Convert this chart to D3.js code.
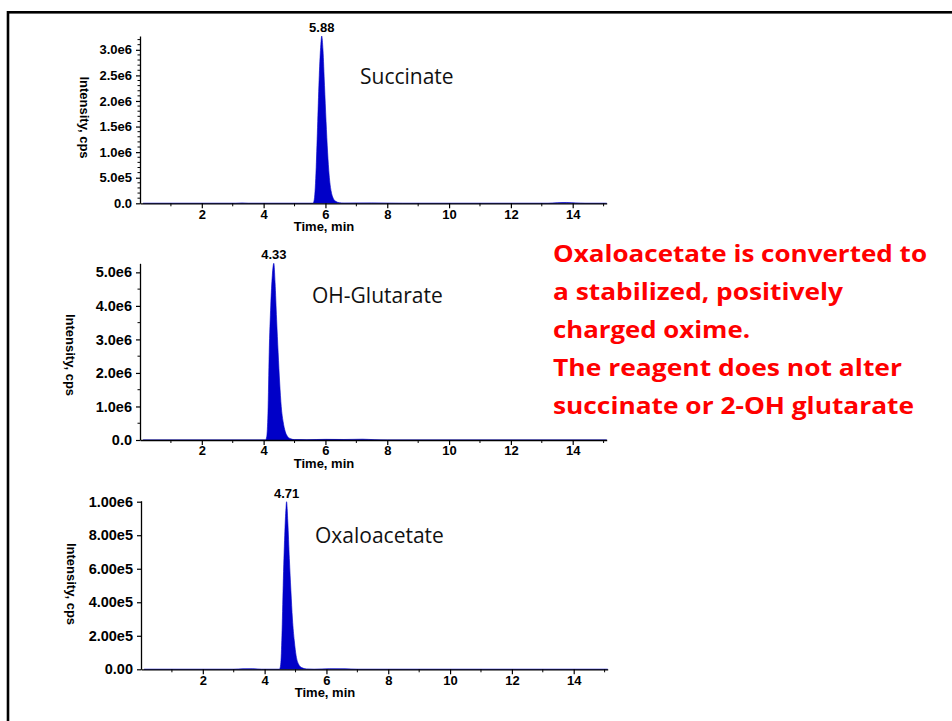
<!DOCTYPE html>
<html>
<head>
<meta charset="utf-8">
<script src="https://cdn.jsdelivr.net/npm/d3@7"></script>
<style>
  html, body { margin: 0; padding: 0; background: #fff; }
  svg { display: block; }
</style>
</head>
<body>
<svg id="chart" width="952" height="721"></svg>
<script>
// ---------- DATA ----------
const xTicks = [2, 4, 6, 8, 10, 12, 14];
const xMinorTicks = [1, 3, 5, 7, 9, 11, 13, 15];

const succinateTime = [0.1, 3.1, 3.3, 3.5, 5.60, 5.64, 5.67, 5.70, 5.75, 5.80, 5.85, 5.88, 5.92, 5.97, 6.02, 6.07, 6.12, 6.18, 6.25, 6.33, 6.45, 6.6, 7.0, 7.5, 8.0, 8.5, 13.2, 13.5, 13.8, 14.1, 14.4, 15.1];
const succinateIntensity = [0, 0, 6e3, 0, 0, 0.08e6, 0.3e6, 0.7e6, 1.6e6, 2.5e6, 3.1e6, 3.27e6, 3.0e6, 2.3e6, 1.6e6, 1.0e6, 0.55e6, 0.25e6, 0.1e6, 0.04e6, 0.012e6, 4e3, 6e3, 8e3, 3e3, 0, 0, 1.2e4, 1.6e4, 8e3, 0, 0];
const succinateYTicks = [0, 5e5, 1e6, 1.5e6, 2e6, 2.5e6, 3e6];
const succinateYLabels = ["0.0", "5.0e5", "1.0e6", "1.5e6", "2.0e6", "2.5e6", "3.0e6"];
const succinateYMinor = [1e5, 2e5, 3e5, 4e5, 6e5, 7e5, 8e5, 9e5, 1.1e6, 1.2e6, 1.3e6, 1.4e6, 1.6e6, 1.7e6, 1.8e6, 1.9e6, 2.1e6, 2.2e6, 2.3e6, 2.4e6, 2.6e6, 2.7e6, 2.8e6, 2.9e6, 3.1e6, 3.2e6];

const glutarateTime = [0.1, 4.06, 4.10, 4.14, 4.18, 4.23, 4.28, 4.33, 4.37, 4.42, 4.47, 4.52, 4.57, 4.63, 4.70, 4.78, 4.88, 5.0, 5.4, 6.0, 6.6, 7.2, 7.6, 8.0, 15.1];
const glutarateIntensity = [0, 0, 0.1e6, 0.8e6, 2.6e6, 4.0e6, 4.9e6, 5.27e6, 4.7e6, 3.6e6, 2.6e6, 1.7e6, 1.0e6, 0.55e6, 0.25e6, 0.1e6, 0.035e6, 0.012e6, 8e3, 2e4, 1.5e4, 2.5e4, 8e3, 0, 0];
const glutarateYTicks = [0, 1e6, 2e6, 3e6, 4e6, 5e6];
const glutarateYLabels = ["0.0", "1.0e6", "2.0e6", "3.0e6", "4.0e6", "5.0e6"];
const glutarateYMinor = [5e5, 1.5e6, 2.5e6, 3.5e6, 4.5e6];

const oxaloacetateTime = [0.1, 3.0, 3.3, 3.6, 3.9, 4.48, 4.52, 4.56, 4.60, 4.65, 4.69, 4.71, 4.75, 4.80, 4.85, 4.90, 4.96, 5.02, 5.10, 5.20, 5.35, 5.6, 6.1, 6.6, 7.0, 15.1];
const oxaloacetateIntensity = [0, 0, 3e3, 3.5e3, 0, 0, 0.03e6, 0.2e6, 0.5e6, 0.8e6, 0.96e6, 1.0e6, 0.88e6, 0.66e6, 0.47e6, 0.3e6, 0.17e6, 0.08e6, 0.03e6, 0.01e6, 2e3, 0, 3.5e3, 3e3, 0, 0];
const oxaloacetateYTicks = [0, 2e5, 4e5, 6e5, 8e5, 1e6];
const oxaloacetateYLabels = ["0.00", "2.00e5", "4.00e5", "6.00e5", "8.00e5", "1.00e6"];
const oxaloacetateYMinor = [];

const compoundNames = ["Succinate", "OH-Glutarate", "Oxaloacetate"];
const peakTimes = [5.88, 4.33, 4.71];
const peakLabels = ["5.88", "4.33", "4.71"];
const peakHeights = [3.27e6, 5.27e6, 1.0e6];
const yMaxima = [3.27e6, 5.27e6, 1.006e6];

const noteLines = [
  "Oxaloacetate is converted to",
  "a stabilized, positively",
  "charged oxime.",
  "The reagent does not alter",
  "succinate or 2-OH glutarate"
];

// ---------- LAYOUT ----------
const panels = [
  { t: succinateTime, v: succinateIntensity, yt: succinateYTicks, yl: succinateYLabels, ym: succinateYMinor,
    x0: 140, x1: 606.7, yb: 203.3, ytop: 36, ylab: [84, 117.5], yfs: 13, name: [360, 83.5] },
  { t: glutarateTime, v: glutarateIntensity, yt: glutarateYTicks, yl: glutarateYLabels, ym: glutarateYMinor,
    x0: 140, x1: 606.7, yb: 440, ytop: 263.3, ylab: [70, 355], yfs: 14.5, name: [312, 302.5] },
  { t: oxaloacetateTime, v: oxaloacetateIntensity, yt: oxaloacetateYTicks, yl: oxaloacetateYLabels, ym: oxaloacetateYMinor,
    x0: 141, x1: 606.7, yb: 669.3, ytop: 500.7, ylab: [71.7, 584], yfs: 14.5, name: [315, 542.5] }
];
const noteWidths = [374, 290, 197, 349, 361];

const svg = d3.select("#chart");
const axisFont = "'Liberation Sans', Arial, sans-serif";
const fillColor = "#0000c8";

// frame
svg.append("rect")
  .attr("x", 8).attr("y", 12.3)
  .attr("width", 980).attr("height", 760)
  .attr("fill", "none").attr("stroke", "#000").attr("stroke-width", 2.6);

panels.forEach((p, i) => {
  const xMaxT = 15.1;
  const x = d3.scaleLinear().domain([0, xMaxT]).range([p.x0, p.x0 + (p.x1 - 140)]);
  const y = d3.scaleLinear().domain([0, yMaxima[i]]).range([p.yb, p.ytop]);
  const g = svg.append("g");

  const data = p.t.map((tt, k) => ({ t: tt, v: p.v[k] }));
  const area = d3.area()
    .x(d => x(d.t)).y0(y(0)).y1(d => y(d.v))
    .curve(d3.curveMonotoneX);
  g.append("path").datum(data)
    .attr("d", area)
    .attr("fill", fillColor)
    .attr("stroke", fillColor).attr("stroke-width", 0.6).attr("stroke-linejoin", "round");

  // x axis
  const xa = g.append("g").attr("transform", `translate(0,${p.yb})`)
    .call(d3.axisBottom(x).tickValues(xTicks).tickFormat(d3.format("d"))
      .tickSize(5).tickSizeOuter(0).tickPadding(1));
  xa.attr("font-size", null).attr("font-family", null);
  xa.select(".domain").attr("stroke-width", 1.3);
  xa.selectAll("text").style("font-family", axisFont).style("font-weight", "bold")
    .style("font-size", "13px").attr("fill", "#000");
  xa.selectAll("line").attr("stroke-width", 1.2);
  xa.selectAll(".minor").data(xMinorTicks).enter().append("line")
    .attr("x1", d => x(d)).attr("x2", d => x(d))
    .attr("y1", 0).attr("y2", 3).attr("stroke", "#000").attr("stroke-width", 1);

  // y axis
  const ya = g.append("g").attr("transform", `translate(${p.x0},0)`)
    .call(d3.axisLeft(y).tickValues(p.yt).tickFormat((d, k) => p.yl[k])
      .tickSize(4).tickSizeOuter(0).tickPadding(4));
  ya.attr("font-size", null).attr("font-family", null);
  ya.select(".domain").attr("stroke-width", 1.3);
  ya.selectAll("text").style("font-family", axisFont).style("font-weight", "bold")
    .style("font-size", p.yfs + "px").attr("fill", "#000");
  ya.selectAll("line").attr("stroke-width", 1.2);
  ya.selectAll(".minor").data(p.ym).enter().append("line")
    .attr("x1", -2.5).attr("x2", 0)
    .attr("y1", d => y(d)).attr("y2", d => y(d)).attr("stroke", "#000").attr("stroke-width", 1);

  // axis titles
  g.append("text")
    .attr("x", 324 + (p.x0 - 140)).attr("y", p.yb + 28)
    .attr("text-anchor", "middle")
    .style("font-family", axisFont).style("font-weight", "bold").style("font-size", "13px")
    .text("Time, min");
  g.append("text")
    .attr("transform", `translate(${p.ylab[0] - 4.5},${p.ylab[1]}) rotate(90)`)
    .attr("text-anchor", "middle")
    .style("font-family", axisFont).style("font-weight", "bold").style("font-size", "13px")
    .text("Intensity, cps");

  // peak label
  g.append("text")
    .attr("x", x(peakTimes[i])).attr("y", y(peakHeights[i]) - 4)
    .attr("text-anchor", "middle")
    .style("font-family", axisFont).style("font-weight", "bold").style("font-size", "13px")
    .text(peakLabels[i]);

  // compound name
  g.append("text")
    .attr("x", p.name[0]).attr("y", p.name[1])
    .style("font-family", "'Open Sans', 'Noto Sans', sans-serif").style("font-size", "21px")
    .attr("fill", "#111")
    .text(compoundNames[i]);
});

// red note
svg.append("g").selectAll("text").data(noteLines).enter().append("text")
  .attr("x", 553).attr("y", (d, k) => 262 + 38 * k)
  .style("font-family", "'Open Sans', 'Noto Sans', sans-serif")
  .style("font-weight", "bold").style("font-size", "24px")
  .attr("fill", "#ff0000")
  .attr("textLength", (d, k) => noteWidths[k])
  .attr("lengthAdjust", "spacingAndGlyphs")
  .text(d => d);
</script>
</body>
</html>
